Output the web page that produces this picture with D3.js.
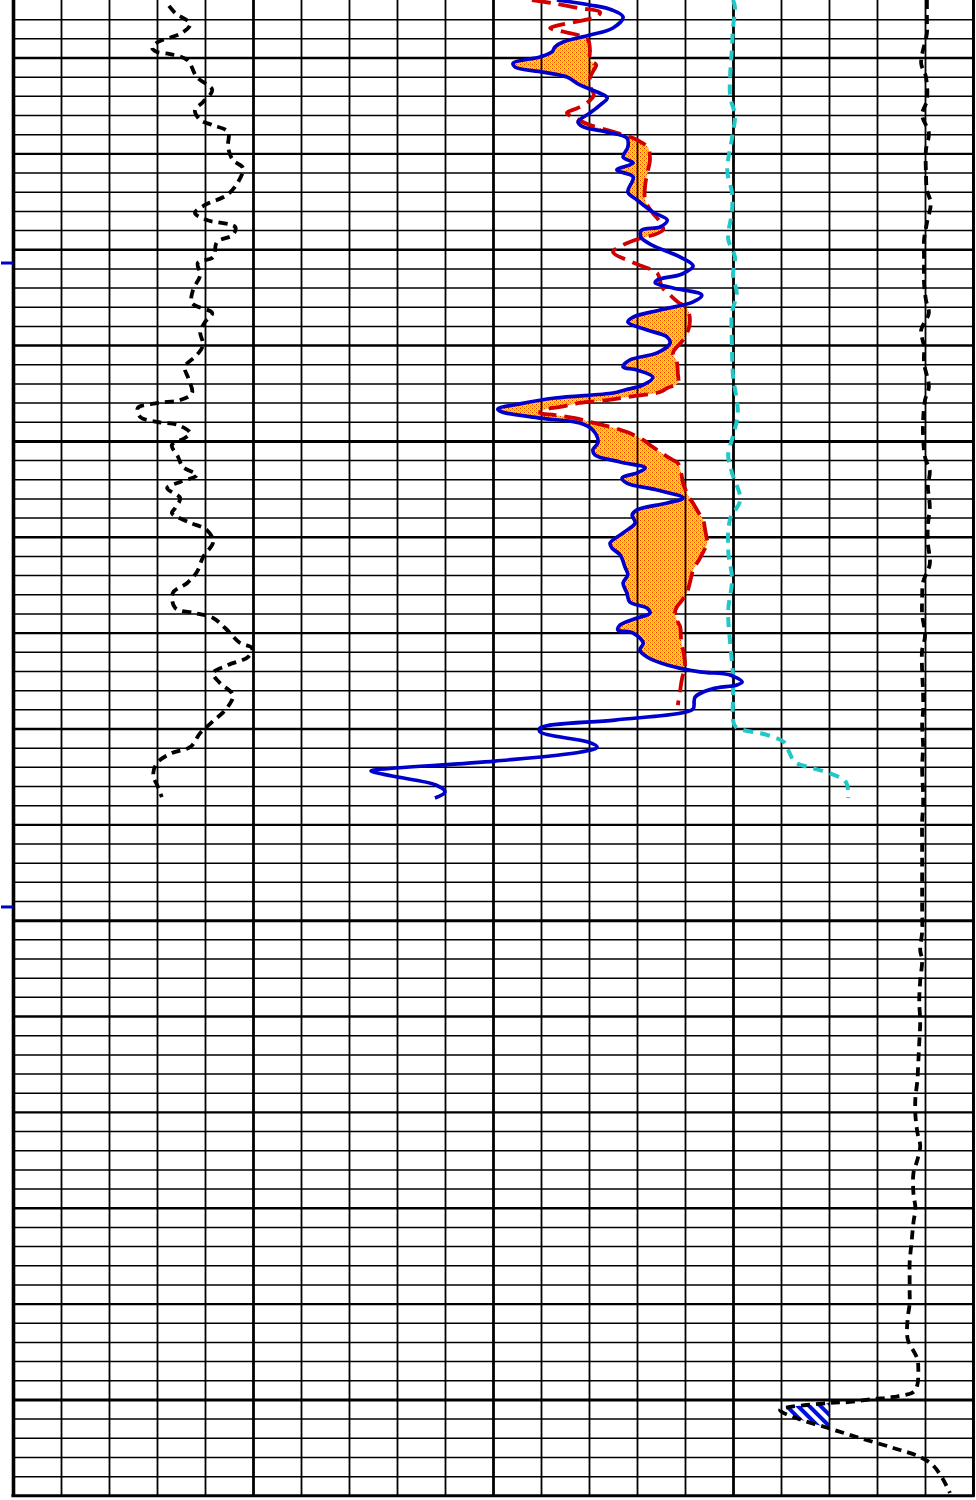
<!DOCTYPE html>
<html>
<head>
<meta charset="utf-8">
<script src="https://cdn.jsdelivr.net/npm/d3@7"></script>
<style>
  html, body { margin: 0; padding: 0; background: #ffffff; }
  svg { display: block; }
</style>
</head>
<body>
<svg id="chart" width="976" height="1500"></svg>
<script>
// ---------------- DATA ----------------
// Depth interval (m), grid: 1 m minor, 5 m medium, 25 m heavy lines
const topDepth = 1227;
const baseDepth = 1305;
const gridDivisions = 20;

// Curve scales (left edge -> right edge of the grid)
const grRange = [0, 200];     // gamma ray, API
const resRange = [0, 20];     // deep / shallow curves
const spRange = [0, 20];      // cyan curve
const calRange = [6, 16];     // caliper, inches
const bitSize = 14.5;         // bit size, inches

// Formation marker depths (blue ticks on the left edge)
const markerDepths = [1240.72, 1274.31];

// Gamma ray [depth, API] - black dashed, left
const grLog = [
  [1227.31,32.5],[1227.68,33.8],[1228.25,36.9],[1228.72,35.2],[1229.19,30.2],[1229.50,29.0],
  [1229.71,30.0],[1229.82,32.7],[1230.13,36.3],[1231.02,38.3],[1231.69,41.5],[1232.32,39.6],
  [1232.74,37.9],[1233.26,39.0],[1233.52,41.5],[1233.89,44.8],[1234.67,44.8],[1235.35,45.8],
  [1235.76,47.9],[1236.49,46.9],[1237.17,44.6],[1237.69,40.0],[1238.11,37.9],[1238.48,40.4],
  [1238.84,46.3],[1239.26,45.8],[1239.62,42.5],[1240.41,41.7],[1240.72,38.5],[1241.35,39.0],
  [1242.13,37.5],[1242.81,37.3],[1243.33,41.5],[1243.80,40.0],[1244.32,39.0],[1245.00,39.6],
  [1245.52,38.3],[1246.14,35.8],[1246.72,36.5],[1247.50,37.3],[1247.87,34.8],[1248.02,30.2],
  [1248.28,26.0],[1248.75,26.5],[1249.01,30.0],[1249.17,34.4],[1249.59,36.9],[1249.85,35.8],
  [1250.21,33.1],[1250.84,34.4],[1251.36,35.4],[1251.78,38.3],[1252.14,34.8],[1252.46,32.1],
  [1252.98,34.8],[1253.50,33.8],[1253.76,33.1],[1254.23,36.5],[1254.65,40.4],[1255.27,41.7],
  [1256.06,39.6],[1256.84,38.3],[1257.41,36.3],[1257.93,33.3],[1258.72,33.8],[1258.98,37.9],
  [1259.24,41.7],[1259.76,44.2],[1260.54,47.3],[1260.80,49.8],[1261.27,49.0],[1261.69,44.8],
  [1262.11,41.7],[1262.63,43.1],[1263.25,45.8],[1263.93,44.6],[1264.66,41.5],[1265.24,39.0],
  [1265.97,36.9],[1266.28,33.1],[1266.80,30.0],[1267.43,29.2],[1268.05,30.2],[1268.58,31.0]
];

// Deep curve [depth, value] - solid blue
const deepLog = [
  [1227.00,11.33],[1227.26,12.02],[1227.52,12.48],[1227.89,12.71],[1228.46,12.50],[1228.83,12.02],
  [1229.19,11.46],[1229.45,11.29],[1229.71,11.23],[1229.97,10.98],[1230.29,10.42],[1230.50,10.46],
  [1230.76,11.04],[1231.02,11.54],[1231.43,11.81],[1231.80,12.17],[1232.11,12.38],[1232.48,12.23],
  [1232.89,12.02],[1233.36,11.77],[1233.62,11.88],[1233.89,12.38],[1234.20,12.79],[1234.67,12.81],
  [1235.19,12.71],[1235.50,12.92],[1235.87,12.58],[1236.23,12.92],[1237.02,12.81],[1237.43,13.00],
  [1238.06,13.33],[1238.48,13.63],[1238.84,13.48],[1239.00,13.10],[1239.36,13.08],[1239.78,13.31],
  [1240.41,13.90],[1240.88,14.17],[1241.29,13.94],[1241.61,13.42],[1241.76,13.38],[1242.02,13.75],
  [1242.39,14.35],[1242.75,14.17],[1243.17,13.48],[1243.54,12.92],[1243.80,12.81],[1244.21,13.21],
  [1244.58,13.63],[1244.89,13.69],[1245.41,13.42],[1245.78,12.85],[1246.14,12.71],[1246.30,13.00],
  [1246.67,13.33],[1247.08,13.13],[1247.34,12.75],[1247.50,12.50],[1247.76,11.29],[1248.07,10.56],
  [1248.34,10.10],[1248.49,10.19],[1248.81,10.98],[1249.07,11.81],[1249.43,12.08],[1250.06,12.19],
  [1250.47,12.08],[1250.74,12.13],[1251.10,12.65],[1251.41,13.17],[1251.67,13.00],[1251.93,12.69],
  [1252.20,12.79],[1252.56,13.42],[1252.98,13.96],[1253.24,13.63],[1253.60,13.00],[1253.86,12.90],
  [1254.28,12.96],[1254.80,12.71],[1255.33,12.44],[1255.59,12.48],[1255.95,12.65],[1256.58,12.75],
  [1256.99,12.81],[1257.41,12.71],[1257.93,12.79],[1258.40,12.85],[1258.72,13.21],[1258.98,13.27],
  [1259.24,13.00],[1259.60,12.65],[1259.86,12.60],[1260.02,12.92],[1260.54,13.13],[1260.91,13.06],
  [1261.27,13.21],[1261.69,13.63],[1262.05,14.31],[1262.21,14.94],[1262.58,15.19],[1262.73,15.08],
  [1262.94,14.56],[1263.36,14.21],[1263.98,14.17],[1264.19,13.92],[1264.56,12.54],[1264.98,10.98],
  [1265.18,10.98],[1265.71,11.98],[1265.97,12.17],[1266.23,11.83],[1266.70,10.04],[1267.17,7.52],
  [1267.22,7.46],[1267.48,7.90],[1267.95,8.81],[1268.31,9.00],[1268.63,8.79]
];

// Shallow curve [depth, value] - red dashed
const shallowLog = [
  [1227.00,10.81],[1227.16,11.23],[1227.42,11.77],[1227.63,12.23],[1227.83,12.19],[1228.04,11.92],
  [1228.30,11.40],[1228.46,11.19],[1228.62,11.40],[1228.83,11.77],[1229.09,11.98],[1229.61,12.02],
  [1230.13,12.02],[1230.39,12.15],[1230.65,12.10],[1231.07,12.02],[1231.59,12.04],[1231.96,12.10],
  [1232.32,11.98],[1232.63,11.77],[1232.89,11.54],[1233.16,11.71],[1233.52,12.02],[1233.83,12.44],
  [1234.09,12.79],[1234.30,13.00],[1234.72,13.23],[1235.35,13.27],[1235.87,13.23],[1236.65,13.17],
  [1237.43,13.17],[1238.06,13.31],[1238.58,13.48],[1239.00,13.54],[1239.52,12.96],[1239.78,12.71],
  [1240.15,12.50],[1240.67,12.90],[1240.88,13.10],[1241.24,13.42],[1241.97,13.52],[1242.39,13.69],
  [1242.75,13.85],[1243.07,14.04],[1243.59,14.10],[1244.11,14.08],[1244.74,13.96],[1245.41,13.75],
  [1245.88,13.83],[1246.46,13.85],[1246.98,13.85],[1247.24,13.63],[1247.45,13.48],[1247.71,12.79],
  [1247.87,12.38],[1248.02,11.81],[1248.23,11.40],[1248.39,11.04],[1248.54,10.98],[1248.65,11.29],
  [1248.81,11.71],[1249.01,12.02],[1249.33,12.54],[1249.54,12.79],[1249.95,13.13],[1250.21,13.27],
  [1250.74,13.58],[1251.00,13.75],[1251.15,13.85],[1251.67,13.92],[1252.20,13.96],[1252.82,14.06],
  [1253.34,14.19],[1253.86,14.31],[1254.13,14.38],[1254.65,14.42],[1255.33,14.46],[1255.69,14.40],
  [1256.21,14.29],[1256.73,14.17],[1257.41,14.10],[1257.93,14.04],[1258.30,13.94],[1258.66,13.83],
  [1258.98,13.79],[1259.34,13.83],[1259.71,13.90],[1260.39,13.92],[1261.17,13.98],[1261.79,14.00],
  [1262.37,13.94],[1262.99,13.90],[1263.78,13.85]
];

// Cyan dashed curve [depth, value]
const spLog = [
  [1227.00,15.00],[1227.37,15.04],[1228.46,15.00],[1229.40,14.98],[1232.01,14.94],[1233.00,15.04],
  [1234.20,14.98],[1235.87,14.88],[1237.07,14.98],[1238.01,14.98],[1239.47,14.90],[1240.41,15.04],
  [1241.35,15.00],[1242.34,15.08],[1243.28,14.98],[1245.21,14.98],[1246.61,15.00],[1248.54,15.10],
  [1249.74,15.00],[1250.74,14.90],[1251.67,14.98],[1253.08,15.15],[1254.07,14.94],[1255.74,14.90],
  [1257.20,14.98],[1258.87,14.90],[1260.54,14.94],[1262.21,15.00],[1263.52,15.00],[1264.56,15.00],
  [1264.92,15.06],[1265.34,15.71],[1265.71,16.06],[1266.12,16.15],[1266.75,16.29],[1267.06,16.65],
  [1267.32,17.00],[1267.79,17.35],[1268.63,17.40]
];

// Caliper [depth, inches] - black dashed, right
const calLog = [
  [1227.00,15.52],[1228.04,15.52],[1228.72,15.52],[1230.29,15.46],[1231.02,15.51],[1232.22,15.52],
  [1233.00,15.47],[1233.94,15.54],[1234.82,15.51],[1236.02,15.51],[1236.91,15.52],[1237.59,15.56],
  [1238.63,15.52],[1239.52,15.49],[1240.56,15.49],[1241.76,15.49],[1242.65,15.51],[1243.33,15.54],
  [1244.21,15.46],[1245.10,15.49],[1245.94,15.49],[1247.19,15.54],[1247.87,15.50],[1248.96,15.48],
  [1249.74,15.48],[1250.84,15.50],[1251.57,15.55],[1252.35,15.53],[1253.45,15.55],[1254.39,15.53],
  [1255.33,15.53],[1256.42,15.55],[1257.36,15.48],[1258.30,15.47],[1259.03,15.47],[1260.18,15.50],
  [1260.91,15.47],[1262.00,15.47],[1263.15,15.48],[1264.09,15.48],[1264.82,15.47],[1265.92,15.48],
  [1267.06,15.47],[1268.37,15.48],[1269.10,15.48],[1269.83,15.47],[1271.13,15.47],[1272.07,15.47],
  [1273.22,15.47],[1274.31,15.47],[1275.62,15.47],[1276.56,15.45],[1277.08,15.47],[1278.17,15.45],
  [1279.22,15.44],[1280.31,15.45],[1281.41,15.44],[1282.45,15.43],[1283.39,15.42],[1284.28,15.40],
  [1285.16,15.40],[1286.05,15.42],[1286.78,15.45],[1287.51,15.42],[1288.19,15.38],[1289.28,15.38],
  [1290.01,15.40],[1290.75,15.38],[1291.79,15.36],[1292.88,15.34],[1293.61,15.34],[1294.34,15.34],
  [1295.02,15.34],[1295.75,15.32],[1296.85,15.32],[1297.89,15.42],[1298.62,15.43],[1299.25,15.42],
  [1299.61,15.38],[1299.87,15.17],[1299.98,14.96],[1300.13,14.72],[1300.19,14.49],[1300.55,13.99],
  [1300.92,14.13],[1301.49,14.49],[1302.01,14.82],[1302.53,15.17],[1303.00,15.45],[1303.42,15.58],
  [1304.10,15.68],[1304.88,15.76]
];

// ---------------- DRAWING ----------------
const W = 976, H = 1500;
const gridLeft = 13, gridRight = 973, gridBottom = 1495.3;

const svg = d3.select("#chart");
const y = d3.scaleLinear().domain([topDepth, baseDepth]).range([0, gridBottom]);
const xGrid = d3.scaleLinear().domain([0, gridDivisions]).range([gridLeft, gridRight]);
const xGR = d3.scaleLinear().domain(grRange).range([gridLeft, gridRight]);
const xRes = d3.scaleLinear().domain(resRange).range([gridLeft, gridRight]);
const xSP = d3.scaleLinear().domain(spRange).range([gridLeft, gridRight]);
const xCal = d3.scaleLinear().domain(calRange).range([gridLeft, gridRight]);
const smooth = d3.curveCatmullRom.alpha(0.5);

svg.append("rect").attr("width", W).attr("height", H).attr("fill", "#fff");

// patterns
const defs = svg.append("defs");
const sand = defs.append("pattern").attr("id", "sandFill")
  .attr("patternUnits", "userSpaceOnUse").attr("width", 4).attr("height", 4);
sand.append("rect").attr("width", 4).attr("height", 4).attr("fill", "#FFB800");
[[0,0,"#FF2A00"],[2,2,"#FF5000"],[1,0,"#FFF000"],[3,0,"#FFF000"],[1,2,"#FFF000"],[3,2,"#FFF000"],
 [0,1,"#FFD800"],[2,3,"#FFD800"],[2,1,"#FFE400"],[0,3,"#FFE400"]]
  .forEach(([px, py, c]) => sand.append("rect").attr("x", px).attr("y", py).attr("width", 1).attr("height", 1).attr("fill", c));

const hatch = defs.append("pattern").attr("id", "hatch")
  .attr("patternUnits", "userSpaceOnUse").attr("width", 8).attr("height", 8)
  .attr("patternTransform", "rotate(-45)");
hatch.append("rect").attr("width", 8).attr("height", 8).attr("fill", "#fff");
hatch.append("rect").attr("width", 4).attr("height", 8).attr("fill", "#0010DD");

// horizontal grid (depth axis)
const hAxis = d3.axisLeft(y)
  .tickValues(d3.range(topDepth + 1, baseDepth))
  .tickSize(-(gridRight - gridLeft)).tickFormat("");
const hg = svg.append("g").attr("transform", `translate(${gridLeft},0)`).call(hAxis);
hg.select(".domain").remove();
hg.selectAll(".tick line")
  .attr("stroke", "#000")
  .attr("stroke-width", d => d % 25 === 0 ? 3 : (d % 5 === 0 ? 2.4 : 1.5));

// layers
const fillLayer = svg.append("g");
const vLayer = svg.append("g");
const curveLayer = svg.append("g");

// curves
function drawCurve(data, xs, color, width, dash) {
  return curveLayer.append("path").datum(data)
    .attr("fill", "none").attr("stroke", color).attr("stroke-width", width)
    .attr("stroke-dasharray", dash || null)
    .attr("stroke-linejoin", "round")
    .attr("d", d3.line().x(p => xs(p[1])).y(p => y(p[0])).curve(smooth));
}
drawCurve(grLog, xGR, "#000", 3.8, "9,6");
drawCurve(spLog, xSP, "#22C8C8", 4, "10,7");
const shallowPath = drawCurve(shallowLog, xRes, "#D00000", 3.8, "19,8");
const deepPath = drawCurve(deepLog, xRes, "#0000CC", 3.7, null);
const calPath = drawCurve(calLog, xCal, "#000", 3.8, "9,6");

// dense samples of a drawn (smoothed) curve, returned as [depth, value], depth increasing
function sampleCurve(path, xs) {
  const node = path.node();
  const L = node.getTotalLength();
  const out = [];
  let last = -Infinity;
  for (let s = 0; s <= L; s += 0.75) {
    const p = node.getPointAtLength(s);
    const d = y.invert(p.y);
    if (d > last + 1e-6) { out.push([d, xs.invert(p.x)]); last = d; }
  }
  return out;
}
function makeInterp(series) {
  const ds = series.map(p => p[0]);
  return d => {
    const i = d3.bisectLeft(ds, d);
    if (i <= 0) return series[0][1];
    if (i >= series.length) return series[series.length - 1][1];
    const [d0, v0] = series[i - 1], [d1, v1] = series[i];
    return d1 === d0 ? v1 : v0 + (v1 - v0) * (d - d0) / (d1 - d0);
  };
}
function crossover(a, b) {
  const fa = makeInterp(a), fb = makeInterp(b);
  const lo = Math.max(a[0][0], b[0][0]);
  const hi = Math.min(a[a.length - 1][0], b[b.length - 1][0]);
  const ds = Array.from(new Set([...a.map(p => p[0]), ...b.map(p => p[0])]))
    .filter(d => d >= lo && d <= hi).sort((p, q) => p - q);
  const pts = [];
  ds.forEach((d, i) => {
    const va = fa(d), vb = fb(d);
    if (i > 0) {
      const p = pts[pts.length - 1];
      const s0 = p.b - p.a, s1 = vb - va;
      if (s0 * s1 < 0) {
        const t = s0 / (s0 - s1);
        const vc = p.a + t * (va - p.a);
        pts.push({ d: p.d + t * (d - p.d), a: vc, b: vc });
      }
    }
    pts.push({ d, a: va, b: vb });
  });
  return pts;
}

// orange crossover fill (shallow to the right of deep)
const resPts = crossover(sampleCurve(deepPath, xRes), sampleCurve(shallowPath, xRes));
fillLayer.append("path").datum(resPts)
  .attr("fill", "url(#sandFill)")
  .attr("d", d3.area().y(p => y(p.d)).x0(p => xRes(p.a)).x1(p => xRes(Math.max(p.a, p.b))));

// hatched fill where caliper is under bit size
const calSamples = sampleCurve(calPath, xCal);
const bitLine = [[calSamples[0][0], bitSize], [calSamples[calSamples.length - 1][0], bitSize]];
const calPts = crossover(calSamples, bitLine);
fillLayer.append("path").datum(calPts)
  .attr("fill", "url(#hatch)")
  .attr("d", d3.area().y(p => y(p.d)).x0(p => xCal(p.a)).x1(p => xCal(Math.max(p.a, p.b))));

// vertical grid
const vAxis = d3.axisTop(xGrid).tickValues(d3.range(0, gridDivisions + 1))
  .tickSize(-gridBottom - 1.5).tickFormat("");
vLayer.call(vAxis);
vLayer.select(".domain").remove();
vLayer.selectAll(".tick line")
  .attr("stroke", "#000")
  .attr("stroke-width", d => d === 0 ? 3.6 : (d === gridDivisions ? 3 : (d % 5 === 0 ? 2.8 : 1.8)));

// bottom border
vLayer.append("line")
  .attr("x1", xGrid(0) - 1.5).attr("x2", xGrid(gridDivisions) + 1.5)
  .attr("y1", y(baseDepth) + 0.5).attr("y2", y(baseDepth) + 0.5)
  .attr("stroke", "#000").attr("stroke-width", 3);

// formation markers
svg.selectAll("line.marker").data(markerDepths).join("line")
  .attr("class", "marker")
  .attr("x1", 1).attr("x2", gridLeft)
  .attr("y1", d => y(d)).attr("y2", d => y(d))
  .attr("stroke", "#0000CC").attr("stroke-width", 3);
</script>
</body>
</html>
